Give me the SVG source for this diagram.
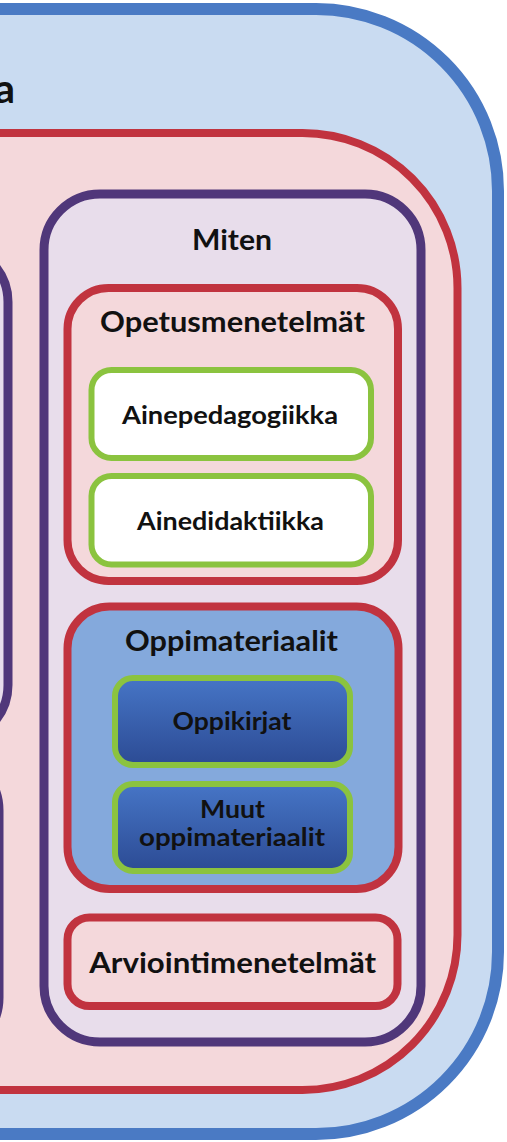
<svg xmlns="http://www.w3.org/2000/svg" width="507" height="1142" viewBox="0 0 507 1142">
  <defs>
    <linearGradient id="darkBlue" x1="0" y1="0" x2="0" y2="1">
      <stop offset="0" stop-color="#4675C6"/>
      <stop offset="1" stop-color="#2C4B94"/>
    </linearGradient>
    <style>
      .t { font-family: Lato, "Open Sans", "Liberation Sans", sans-serif; font-weight: bold; fill: #111111; text-anchor: middle; }
      .h { font-size: 28.5px; }
      .s { font-size: 25.5px; }
      .s2 { font-size: 24px; }
      .purple { fill: #E8DDEB; stroke: #50377A; stroke-width: 9; }
      .red { fill: #F4D8DB; stroke: #C1333F; stroke-width: 8; }
      .green { fill: #FFFFFF; stroke: #8BC33F; stroke-width: 6; }
      .greenBlue { fill: url(#darkBlue); stroke: #8BC33F; stroke-width: 6; }
    </style>
  </defs>
  <rect width="507" height="1142" fill="#FFFFFF"/>

  <g id="outer">
    <rect x="-300" y="9" width="798" height="1125" rx="182" ry="182" fill="#C9DBF1" stroke="#4A7AC4" stroke-width="12"/>
    <text class="t" x="15" y="103" font-size="41" style="text-anchor:end">a</text>
  </g>

  <g id="inner-red">
    <rect x="-300" y="133" width="757.5" height="957" rx="155" ry="155" class="red"/>
  </g>

  <g id="left-box-1">
    <rect x="-300" y="246" width="308" height="495" rx="56" ry="56" class="purple"/>
  </g>
  <g id="left-box-2">
    <rect x="-300" y="754.5" width="299" height="299" rx="56" ry="56" class="purple"/>
  </g>

  <g id="miten">
    <rect x="44" y="194" width="377" height="848" rx="56" ry="56" class="purple"/>
    <text class="t h" x="232" y="250" textLength="80" lengthAdjust="spacingAndGlyphs">Miten</text>
  </g>

  <g id="opetusmenetelmat">
    <rect x="67.5" y="288" width="330.5" height="293" rx="41" ry="41" class="red"/>
    <text class="t h" x="232.5" y="332" textLength="265" lengthAdjust="spacingAndGlyphs">Opetusmenetelmät</text>
  </g>

  <g id="ainepedagogiikka">
    <rect x="91.5" y="370" width="279.5" height="88" rx="20" ry="20" class="green"/>
    <text class="t s" x="230" y="423.5" textLength="216" lengthAdjust="spacingAndGlyphs">Ainepedagogiikka</text>
  </g>

  <g id="ainedidaktiikka">
    <rect x="91.5" y="476" width="279.5" height="88.5" rx="20" ry="20" class="green"/>
    <text class="t s" x="230.5" y="529.5" textLength="187" lengthAdjust="spacingAndGlyphs">Ainedidaktiikka</text>
  </g>

  <g id="oppimateriaalit">
    <rect x="67.5" y="606.5" width="331" height="282.5" rx="42" ry="42" fill="#84A9DC" stroke="#C1333F" stroke-width="8"/>
    <text class="t h" x="231.5" y="651" textLength="213" lengthAdjust="spacingAndGlyphs">Oppimateriaalit</text>
  </g>

  <g id="oppikirjat">
    <rect x="115" y="678" width="235" height="87" rx="18" ry="18" class="greenBlue"/>
    <text class="t s" x="232" y="730" textLength="119" lengthAdjust="spacingAndGlyphs">Oppikirjat</text>
  </g>

  <g id="muut-oppimateriaalit">
    <rect x="115" y="784" width="235" height="87" rx="18" ry="18" class="greenBlue"/>
    <text class="t s2" x="232.5" y="817.5" textLength="65" lengthAdjust="spacingAndGlyphs">Muut</text>
    <text class="t s2" x="232" y="845.5" textLength="186" lengthAdjust="spacingAndGlyphs">oppimateriaalit</text>
  </g>

  <g id="arviointimenetelmat">
    <rect x="67.5" y="917.5" width="330" height="88.5" rx="22" ry="22" class="red"/>
    <text class="t h" x="232.7" y="972.5" textLength="287" lengthAdjust="spacingAndGlyphs">Arviointimenetelmät</text>
  </g>
</svg>
